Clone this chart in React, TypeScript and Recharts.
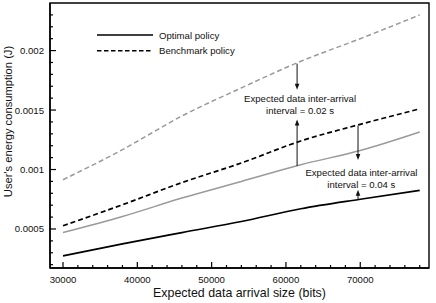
import { LineChart, Line, XAxis, YAxis, ReferenceLine, ReferenceDot, ReferenceArea, Legend, Label } from 'recharts';

const sizes = [30000, 38000, 46000, 54000, 62000, 70000, 78000];
const optimal002 = [0.00047, 0.000605, 0.00076, 0.0009, 0.00104, 0.00116, 0.001316];
const benchmark002 = [0.000914, 0.001167, 0.00145, 0.001686, 0.00191, 0.0021, 0.0023];
const optimal004 = [0.000274, 0.000375, 0.00047, 0.000563, 0.00067, 0.00075, 0.000824];
const benchmark004 = [0.000527, 0.000704, 0.00089, 0.001055, 0.00124, 0.00138, 0.00151];

const xTicks = [30000, 32000, 34000, 36000, 38000, 40000, 42000, 44000, 46000, 48000, 50000, 52000, 54000, 56000, 58000, 60000, 62000, 64000, 66000, 68000, 70000, 72000, 74000, 76000, 78000];
const xMajor = [30000, 40000, 50000, 60000, 70000];
const yTicks = [0.0002, 0.0003, 0.0004, 0.0005, 0.0006, 0.0007, 0.0008, 0.0009, 0.001, 0.0011, 0.0012, 0.0013, 0.0014, 0.0015, 0.0016, 0.0017, 0.0018, 0.0019, 0.002, 0.0021, 0.0022, 0.0023];
const yMajor = ['0.0005', '0.001', '0.0015', '0.002'];

const data = sizes.map((s, i) => ({
  size: s,
  opt002: optimal002[i],
  bench002: benchmark002[i],
  opt004: optimal004[i],
  bench004: benchmark004[i],
}));

const FONT = '"Liberation Sans", Arial, sans-serif';
const GRAY = '#9a9a9a';

function XTick({ x, y, payload }: any) {
  const major = xMajor.includes(payload.value);
  return (
    <g>
      <line x1={x} x2={x} y1={y} y2={y - (major ? 6 : 3)} stroke="#000" strokeWidth={1.2} />
      {major && (
        <text x={x} y={y + 15} textAnchor="middle" fontSize={9.6} fill="#111" fontFamily={FONT}>
          {payload.value}
        </text>
      )}
    </g>
  );
}

function YTick({ x, y, payload }: any) {
  const label = String(+payload.value.toFixed(4));
  const major = yMajor.includes(label);
  return (
    <g>
      <line x1={x} x2={x + (major ? 6 : 3)} y1={y} y2={y} stroke="#000" strokeWidth={1.2} />
      {major && (
        <text x={x - 6} y={y + 3.5} textAnchor="end" fontSize={9.6} fill="#111" fontFamily={FONT}>
          {label}
        </text>
      )}
    </g>
  );
}

function Arrow({ x1, y1, x2, y2 }: any) {
  const dir = y2 > y1 ? 1 : -1;
  return (
    <g>
      <line x1={x1} y1={y1} x2={x2} y2={y2 - dir * 3} stroke="#111" strokeWidth={1} />
      <polygon points={`${x2},${y2} ${x2 - 2.3},${y2 - dir * 6} ${x2 + 2.3},${y2 - dir * 6}`} fill="#111" />
    </g>
  );
}

function Note({ cx, cy, second }: any) {
  return (
    <g fontFamily={FONT} fontSize={9.6} fill="#111" textAnchor="middle">
      <text x={cx} y={cy - 2.5}>Expected data inter-arrival</text>
      <text x={cx} y={cy + 9.5}>{second}</text>
    </g>
  );
}

function LegendBox() {
  const rows = [
    { name: 'Optimal policy', dash: undefined },
    { name: 'Benchmark policy', dash: '4.5 2.5' },
  ];
  return (
    <svg width={200} height={32}>
      {rows.map((r, i) => (
        <g key={r.name}>
          <line x1={0} x2={56} y1={7 + i * 15.7} y2={7 + i * 15.7} stroke="#000" strokeWidth={1.6} strokeDasharray={r.dash} />
          <text x={62} y={10.5 + i * 15.7} fontSize={9.6} fontFamily={FONT} fill="#111">{r.name}</text>
        </g>
      ))}
    </svg>
  );
}

export default function App() {
  return (
    <div style={{ position: 'fixed', left: 0, top: 0, background: '#fff' }}>
      <LineChart width={436} height={303} data={data} margin={{ top: 3, right: 7, bottom: 0, left: 0 }}>
        <XAxis
          dataKey="size"
          type="number"
          domain={[28250, 79250]}
          ticks={xTicks}
          interval={0}
          height={35}
          tickSize={0}
          tickMargin={0}
          tickLine={false}
          tick={<XTick />}
          axisLine={{ stroke: '#000', strokeWidth: 1.4 }}
        >
          <Label
            content={({ viewBox }: any) => (
              <text x={viewBox.x + viewBox.width / 2} y={297} textAnchor="middle" fontSize={12.4} fill="#111" fontFamily={FONT}>
                Expected data arrival size (bits)
              </text>
            )}
          />
        </XAxis>
        <YAxis
          type="number"
          domain={[0.000172, 0.0024]}
          ticks={yTicks}
          interval={0}
          width={50}
          tickSize={0}
          tickMargin={0}
          tickLine={false}
          tick={<YTick />}
          axisLine={{ stroke: '#000', strokeWidth: 1.4 }}
          allowDataOverflow
        >
          <Label
            content={({ viewBox }: any) => {
              const cy = viewBox.y + viewBox.height / 2 - 14;
              return (
                <text x={12} y={cy} transform={`rotate(-90 12 ${cy})`} textAnchor="middle" fontSize={11.2} fill="#111" fontFamily={FONT}>
                  User's energy consumption (J)
                </text>
              );
            }}
          />
        </YAxis>
        <ReferenceArea x1={28250} x2={79250} y1={0.000172} y2={0.0024} fill="none" stroke="#000" strokeWidth={1.4} />
        <Legend
          layout="vertical"
          align="center"
          verticalAlign="middle"
          content={() => <LegendBox />}
          wrapperStyle={{ position: 'absolute', left: 97, top: 28, width: 200, height: 32 }}
        />
        <Line type="monotone" dataKey="bench002" stroke={GRAY} strokeWidth={1.5} strokeDasharray="5 3" dot={false} isAnimationActive={false} legendType="none" />
        <Line type="monotone" dataKey="opt002" stroke={GRAY} strokeWidth={1.5} dot={false} isAnimationActive={false} legendType="none" />
        <Line type="monotone" dataKey="bench004" stroke="#000" strokeWidth={1.7} strokeDasharray="5 3" dot={false} isAnimationActive={false} legendType="none" />
        <Line type="monotone" dataKey="opt004" stroke="#000" strokeWidth={1.7} dot={false} isAnimationActive={false} legendType="none" />
        <ReferenceLine segment={[{ x: 61500, y: 0.00189 }, { x: 61500, y: 0.00167 }]} shape={(p: any) => <Arrow {...p} />} />
        <ReferenceLine segment={[{ x: 61500, y: 0.00103 }, { x: 61500, y: 0.00142 }]} shape={(p: any) => <Arrow {...p} />} />
        <ReferenceLine segment={[{ x: 69700, y: 0.00137 }, { x: 69700, y: 0.00108 }]} shape={(p: any) => <Arrow {...p} />} />
        <ReferenceLine segment={[{ x: 69700, y: 0.000746 }, { x: 69700, y: 0.00083 }]} shape={(p: any) => <Arrow {...p} />} />
        <ReferenceDot x={61900} y={0.001545} r={0} shape={(p: any) => <Note {...p} second="interval = 0.02 s" />} />
        <ReferenceDot x={70150} y={0.000927} r={0} shape={(p: any) => <Note {...p} second="interval = 0.04 s" />} />
      </LineChart>
    </div>
  );
}
